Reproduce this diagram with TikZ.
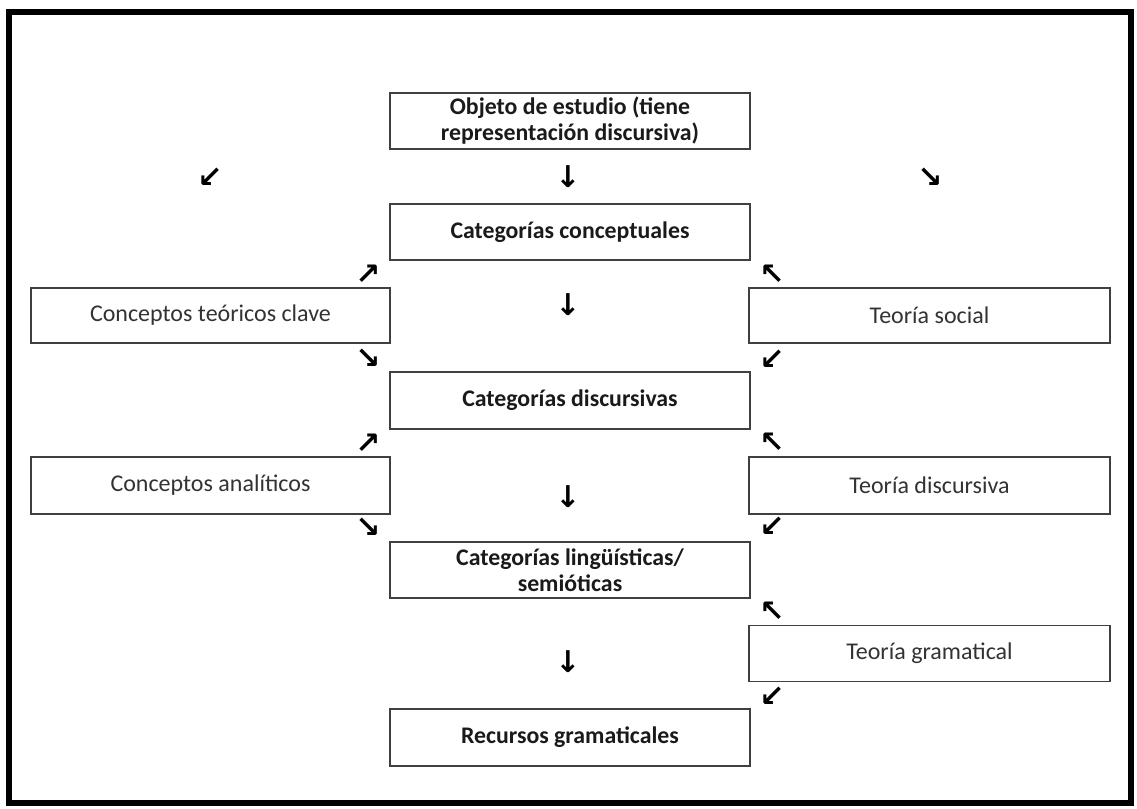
\documentclass[tikz,border=0pt]{standalone}
\usepackage{fontspec}
\setmainfont{Carlito}
\newfontfamily\arrowfont{DejaVu Sans}
\definecolor{boxline}{HTML}{404040}
\definecolor{txtreg}{HTML}{333333}
\definecolor{txtbold}{HTML}{1A1A1A}
\begin{document}
\begin{tikzpicture}[x=1pt,y=-1pt,
  box/.style={draw=boxline, line width=1.8pt, inner sep=0pt, align=center, text=txtreg, font=\fontsize{24}{27}\selectfont},
  boldbox/.style={box, text=txtbold, font=\fontsize{23.8}{26}\selectfont\bfseries},
  arr/.style={inner sep=0pt, text=black, font=\arrowfont\bfseries\fontsize{30}{30}\selectfont}]
\useasboundingbox (0,0) rectangle (1137,808);
\fill[white] (0,0) rectangle (1137,808);
\draw[line width=6pt, black] (9,12) rectangle (1131,803);

% central column
\node[boldbox, minimum width=360pt, minimum height=56pt] (obj) at (570,121) {Objeto de estudio (tiene\\representación discursiva)};
\node[boldbox, minimum width=360pt, minimum height=56pt] (catc) at (570,232) {Categorías conceptuales};
\node[boldbox, minimum width=360pt, minimum height=57pt] (catd) at (570,400.5) {Categorías discursivas};
\node[boldbox, minimum width=360pt, minimum height=56pt] (catl) at (570,570) {Categorías lingüísticas/\\semióticas};
\node[boldbox, minimum width=360pt, minimum height=57pt] (rg) at (570,737.5) {Recursos gramaticales};

% left column
\node[box, minimum width=359pt, minimum height=55pt] (ctc) at (210.5,315.5) {Conceptos teóricos clave};
\node[box, minimum width=359pt, minimum height=57pt] (ca) at (210.5,485.5) {Conceptos analíticos};

% right column
\node[box, minimum width=361pt, minimum height=55pt] (ts) at (929.5,315.5) {Teoría social};
\node[box, minimum width=361pt, minimum height=57pt] (td) at (929.5,485.5) {Teoría discursiva};
\node[box, minimum width=361pt, minimum height=56pt] (tg) at (929.5,653.5) {Teoría gramatical};

% arrow symbols
\node[arr] (a1) at (210,178) {↙};
\node[arr] (a2) at (568,177) {↓};
\node[arr] (a3) at (930,178) {↘};
\node[arr] (a4) at (368,275) {↗};
\node[arr] (a5) at (772,275) {↖};
\node[arr] (a6) at (568,305) {↓};
\node[arr] (a7) at (368,359) {↘};
\node[arr] (a8) at (772,360) {↙};
\node[arr] (a9) at (368,444) {↗};
\node[arr] (a10) at (772,443) {↖};
\node[arr] (a11) at (568,497) {↓};
\node[arr] (a12) at (368,528) {↘};
\node[arr] (a13) at (772,527) {↙};
\node[arr] (a14) at (772,612) {↖};
\node[arr] (a15) at (568,662) {↓};
\node[arr] (a16) at (772,697) {↙};
\end{tikzpicture}
\end{document}
